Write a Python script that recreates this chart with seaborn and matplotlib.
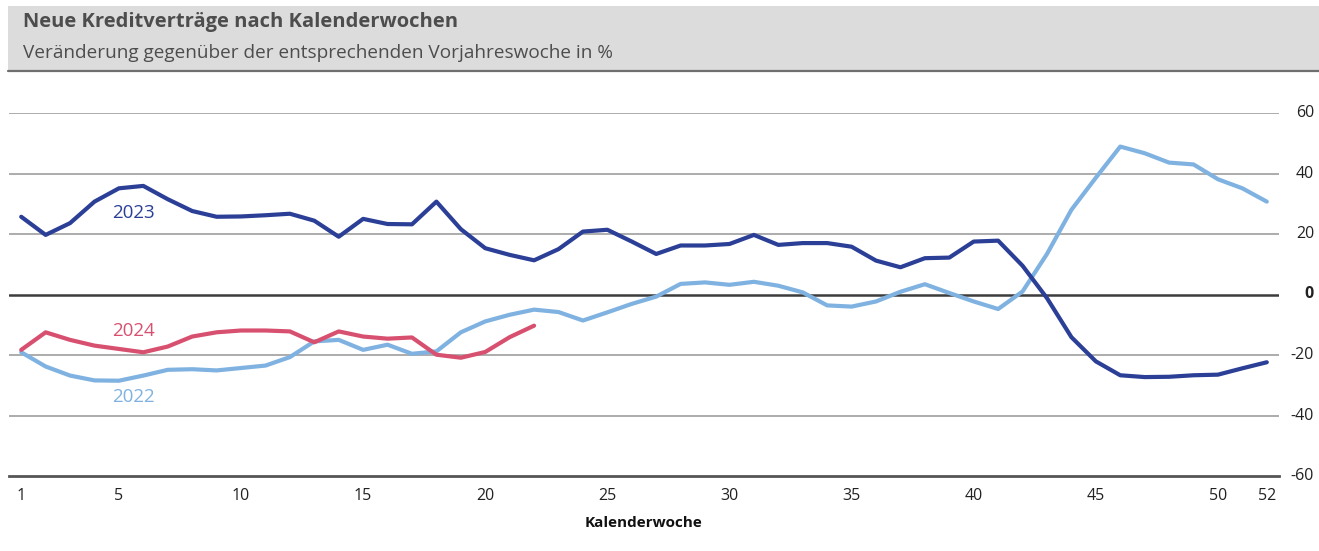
import matplotlib
matplotlib.use("agg")
import matplotlib.pyplot as plt
import pandas as pd
import seaborn as sns
from matplotlib.patches import Rectangle
from matplotlib.lines import Line2D

# Veränderung gegenüber Vorjahreswoche in %
weeks = list(range(1, 53))
y2022 = [-19.1, -23.8, -26.8, -28.4, -28.5, -26.8, -24.9, -24.7, -25.1, -24.3,
         -23.5, -20.7, -15.5, -15.0, -18.3, -16.6, -19.6, -18.8, -12.5, -8.9,
         -6.7, -5.0, -5.8, -8.6, -5.9, -3.1, -0.7, 3.5, 4.0, 3.2,
         4.2, 2.9, 0.7, -3.6, -4.0, -2.3, 0.9, 3.4, 0.5, -2.3,
         -4.8, 1.0, 13.4, 28.0, 38.6, 48.9, 46.7, 43.6, 43.0, 38.1,
         35.1, 30.7]
y2023 = [25.7, 19.7, 23.6, 30.7, 35.1, 35.9, 31.5, 27.6, 25.7, 25.8,
         26.2, 26.7, 24.4, 19.1, 25.0, 23.3, 23.2, 30.7, 21.6, 15.3,
         13.1, 11.3, 15.0, 20.8, 21.4, 17.5, 13.4, 16.2, 16.2, 16.7,
         19.7, 16.4, 17.0, 17.0, 15.8, 11.2, 9.0, 12.0, 12.2, 17.5,
         17.8, 9.5, -1.2, -14.1, -22.1, -26.7, -27.3, -27.2, -26.7, -26.5,
         -24.4, -22.4]
y2024 = [-18.3, -12.5, -15.0, -16.9, -18.0, -19.1, -17.2, -13.9, -12.5, -11.9,
         -11.9, -12.2, -15.8, -12.2, -13.9, -14.6, -14.2, -19.9, -20.9, -19.0,
         -14.1, -10.3]

x_ticklabels = [1, 5, 10, 15, 20, 25, 30, 35, 40, 45, 50, 52]
y_ticks = [60, 40, 20, 0, -20, -40, -60]

colors = {"2022": "#7fb2e1", "2023": "#2b3f97", "2024": "#d8506f"}

df = pd.concat([
    pd.DataFrame({"Woche": weeks, "Wert": y2022, "Jahr": "2022"}),
    pd.DataFrame({"Woche": weeks, "Wert": y2023, "Jahr": "2023"}),
    pd.DataFrame({"Woche": weeks[:len(y2024)], "Wert": y2024, "Jahr": "2024"}),
])

sns.set_style("white")
plt.rcParams["font.family"] = ["Open Sans", "DejaVu Sans"]

fig = plt.figure(figsize=(13.19, 5.51), dpi=100)
ax = fig.add_axes([9 / 1319, 1 - 476 / 551, 1270 / 1319, 363 / 551])

# header band
fig.patches.append(Rectangle((8 / 1319, 1 - 71 / 551), 1 - 8 / 1319, 65 / 551,
                             transform=fig.transFigure, facecolor="#dcdcdc",
                             edgecolor="none", zorder=0))
fig.add_artist(Line2D([8 / 1319, 1], [1 - 71 / 551, 1 - 71 / 551],
                      transform=fig.transFigure, color="#6e6e6e", lw=1.6))
fig.text(23 / 1319, 1 - 22 / 551, "Neue Kreditverträge nach Kalenderwochen",
         fontsize=14.5, fontweight="bold", color="#4d4d4d", va="center")
fig.text(23 / 1319, 1 - 53 / 551, "Veränderung gegenüber der entsprechenden Vorjahreswoche in %",
         fontsize=13.7, color="#4d4d4d", va="center")

for yv in y_ticks:
    if yv == 0:
        ax.axhline(yv, color="#3c3c3c", lw=1.8, zorder=1)
    elif yv != -60:
        ax.axhline(yv, color="#a6a6a6", lw=1.3, zorder=1)

sns.lineplot(data=df, x="Woche", y="Wert", hue="Jahr", palette=colors,
             linewidth=3.0, legend=False, ax=ax, zorder=3)

ax.set_xlim(0.5, 52.5)
ax.set_ylim(-60, 60)

for s in ["top", "left", "right"]:
    ax.spines[s].set_visible(False)
ax.spines["bottom"].set_color("#555555")
ax.spines["bottom"].set_linewidth(2.0)

# minor ticks between weeks, labels on selected weeks
ax.set_xticks(x_ticklabels)
ax.set_xticklabels([str(v) for v in x_ticklabels], fontsize=11.5, color="#222222")
ax.set_xticks([w + 0.5 for w in weeks[:-1]], minor=True)
ax.tick_params(axis="x", which="major", length=0, pad=9)
ax.tick_params(axis="x", which="minor", length=6, width=1.2, color="#555555", direction="out")

# y labels on the right, right-aligned
ax.set_yticks([])
ax.set_ylabel("")
for yv in y_ticks:
    ax.text(1.0276, yv, str(yv), transform=ax.get_yaxis_transform(),
            fontsize=11.5, color="#222222", ha="right", va="center",
            fontweight="bold" if yv == 0 else "normal")

ax.set_xlabel("Kalenderwoche", fontsize=11, fontweight="bold", color="#111111", labelpad=8)

ax.text(5.6, 26.8, "2023", color=colors["2023"], fontsize=13.5, ha="center", va="center")
ax.text(5.6, -12, "2024", color=colors["2024"], fontsize=13.5, ha="center", va="center")
ax.text(5.6, -34, "2022", color=colors["2022"], fontsize=13.5, ha="center", va="center")

fig.savefig("out.png", dpi=100)
